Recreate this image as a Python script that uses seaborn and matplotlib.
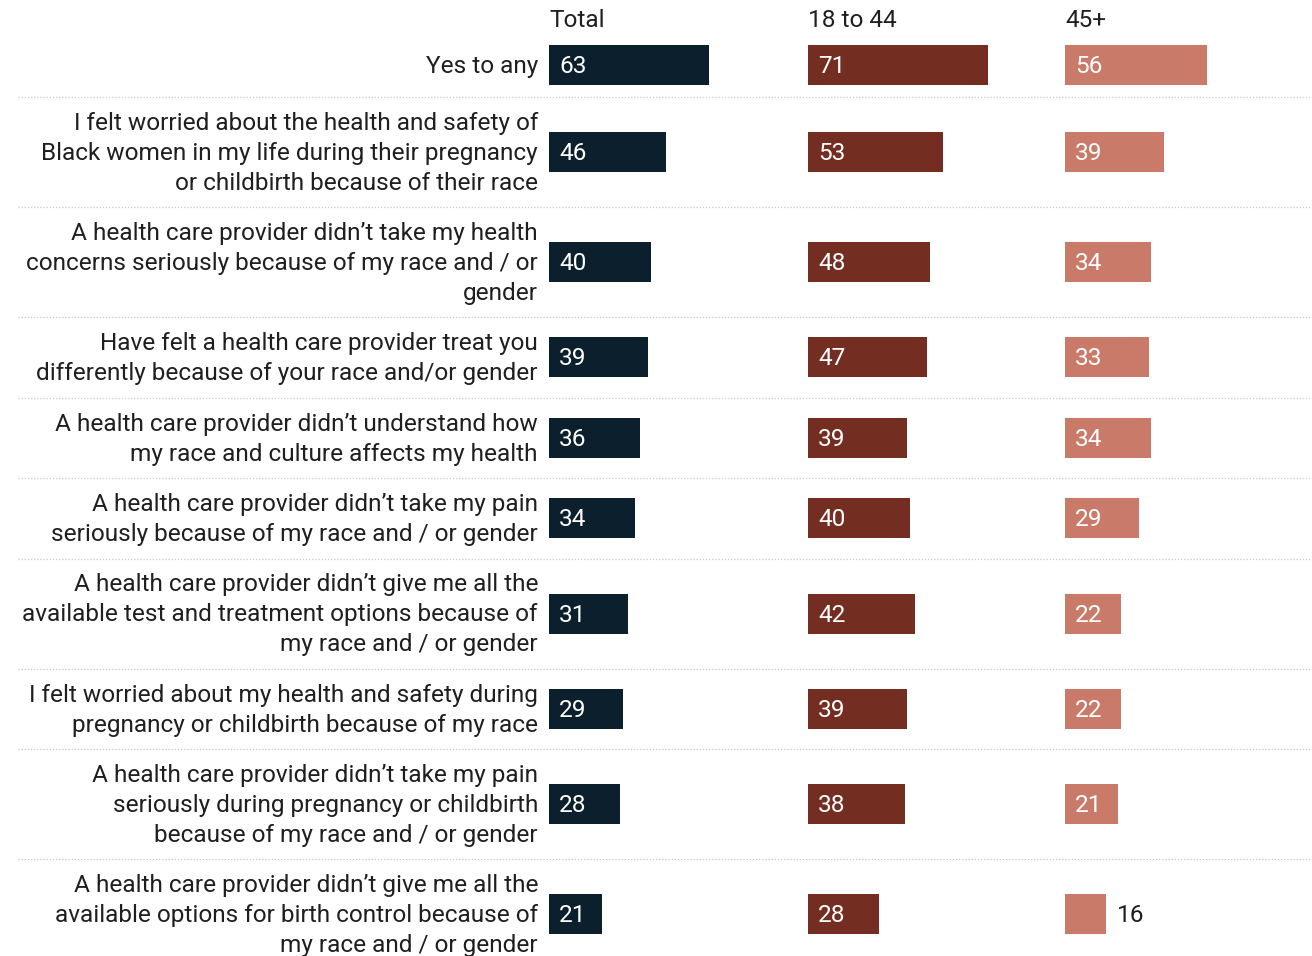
import numpy as np
import pandas as pd
import matplotlib
matplotlib.use("Agg")
import matplotlib.pyplot as plt
import seaborn as sns

# ---- data -------------------------------------------------------------
categories = [
    "Yes to any",
    "I felt worried about the health and safety of\nBlack women in my life during their pregnancy\nor childbirth because of their race",
    "A health care provider didn\u2019t take my health\nconcerns seriously because of my race and / or\ngender",
    "Have felt a health care provider treat you\ndifferently because of your race and/or gender",
    "A health care provider didn\u2019t understand how\nmy race and culture affects my health",
    "A health care provider didn\u2019t take my pain\nseriously because of my race and / or gender",
    "A health care provider didn\u2019t give me all the\navailable test and treatment options because of\nmy race and / or gender",
    "I felt worried about my health and safety during\npregnancy or childbirth because of my race",
    "A health care provider didn\u2019t take my pain\nseriously during pregnancy or childbirth\nbecause of my race and / or gender",
    "A health care provider didn\u2019t give me all the\navailable options for birth control because of\nmy race and / or gender",
]
groups = ["Total", "18 to 44", "45+"]
total = [63, 46, 40, 39, 36, 34, 31, 29, 28, 21]
age_18_44 = [71, 53, 48, 47, 39, 40, 42, 39, 38, 28]
age_45_plus = [56, 39, 34, 33, 34, 29, 22, 22, 21, 16]
group_colors = ["#0b202c", "#732e21", "#c97a69"]

# ---- layout (pixel units, figure is 1312 x 956) -----------------------
W, H, DPI = 1312, 956, 100
PX_PER_UNIT = 2.54
PANEL_X = [549, 808, 1065]
PANEL_W = 245
LABEL_RIGHT = 538
TOP = 33
LINE_H = 30
BAR_H = 40
ROW_H_BY_LINES = {1: 64, 2: 80.5, 3: 110}
FS = 24.4 * 72 / DPI  # ~24 px text
TEXT_COLOR = "#1f1f1f"

sns.set_theme(style="white")
plt.rcParams["font.family"] = ["Roboto", "DejaVu Sans"]

n_lines = [c.count("\n") + 1 for c in categories]
row_h = [ROW_H_BY_LINES[n] for n in n_lines]
row_top = TOP + np.concatenate([[0], np.cumsum(row_h)[:-1]])
row_mid = row_top + np.array(row_h) / 2

values = {"Total": total, "18 to 44": age_18_44, "45+": age_45_plus}
df = pd.DataFrame(
    [
        {"category": c, "group": g, "value": values[g][i], "ypos": row_mid[i]}
        for g in groups
        for i, c in enumerate(categories)
    ]
)

fig = plt.figure(figsize=(W / DPI, H / DPI), dpi=DPI)

# background layer: row labels, headers, dotted separators
bg = fig.add_axes([0, 0, 1, 1])
bg.set_xlim(0, W)
bg.set_ylim(H, 0)
bg.set_axis_off()

for i, cat in enumerate(categories):
    lines = cat.split("\n")
    for j, line in enumerate(lines):
        yc = row_mid[i] + (j - (len(lines) - 1) / 2) * LINE_H
        bg.text(LABEL_RIGHT, yc + 8, line, ha="right", va="baseline",
                fontsize=FS, color=TEXT_COLOR)
    if i > 0:
        bg.plot([18, W], [row_top[i], row_top[i]], color="#c8c8c8",
                linewidth=0.9, linestyle=(0, (1, 1.5)))

for g, x0 in zip(groups, PANEL_X):
    bg.text(x0, 27, g, ha="left", va="baseline", fontsize=FS, color=TEXT_COLOR)

# one bar panel per group, sharing the pixel-based vertical scale
min_gap = np.min(np.diff(np.sort(row_mid)))
for g, x0, col in zip(groups, PANEL_X, group_colors):
    ax = fig.add_axes([x0 / W, 0, PANEL_W / W, 1])
    sub = df[df["group"] == g]
    sns.barplot(data=sub, x="value", y="ypos", orient="h", native_scale=True,
                width=BAR_H / min_gap, color=col, saturation=1,
                errorbar=None, linewidth=0, ax=ax)
    ax.set_xlim(0, PANEL_W / PX_PER_UNIT)
    ax.set_ylim(H, 0)
    ax.set_axis_off()
    for v, y in zip(sub["value"], sub["ypos"]):
        if v >= 20:
            ax.annotate(f"{v}", xy=(0, y + 8), xytext=(10 * 72 / DPI, 0),
                        textcoords="offset points", ha="left", va="baseline",
                        fontsize=FS, color="white")
        else:
            ax.annotate(f"{v}", xy=(v, y + 8), xytext=(11 * 72 / DPI, 0),
                        textcoords="offset points", ha="left", va="baseline",
                        fontsize=FS, color=TEXT_COLOR)

fig.savefig("out.png", dpi=DPI)
